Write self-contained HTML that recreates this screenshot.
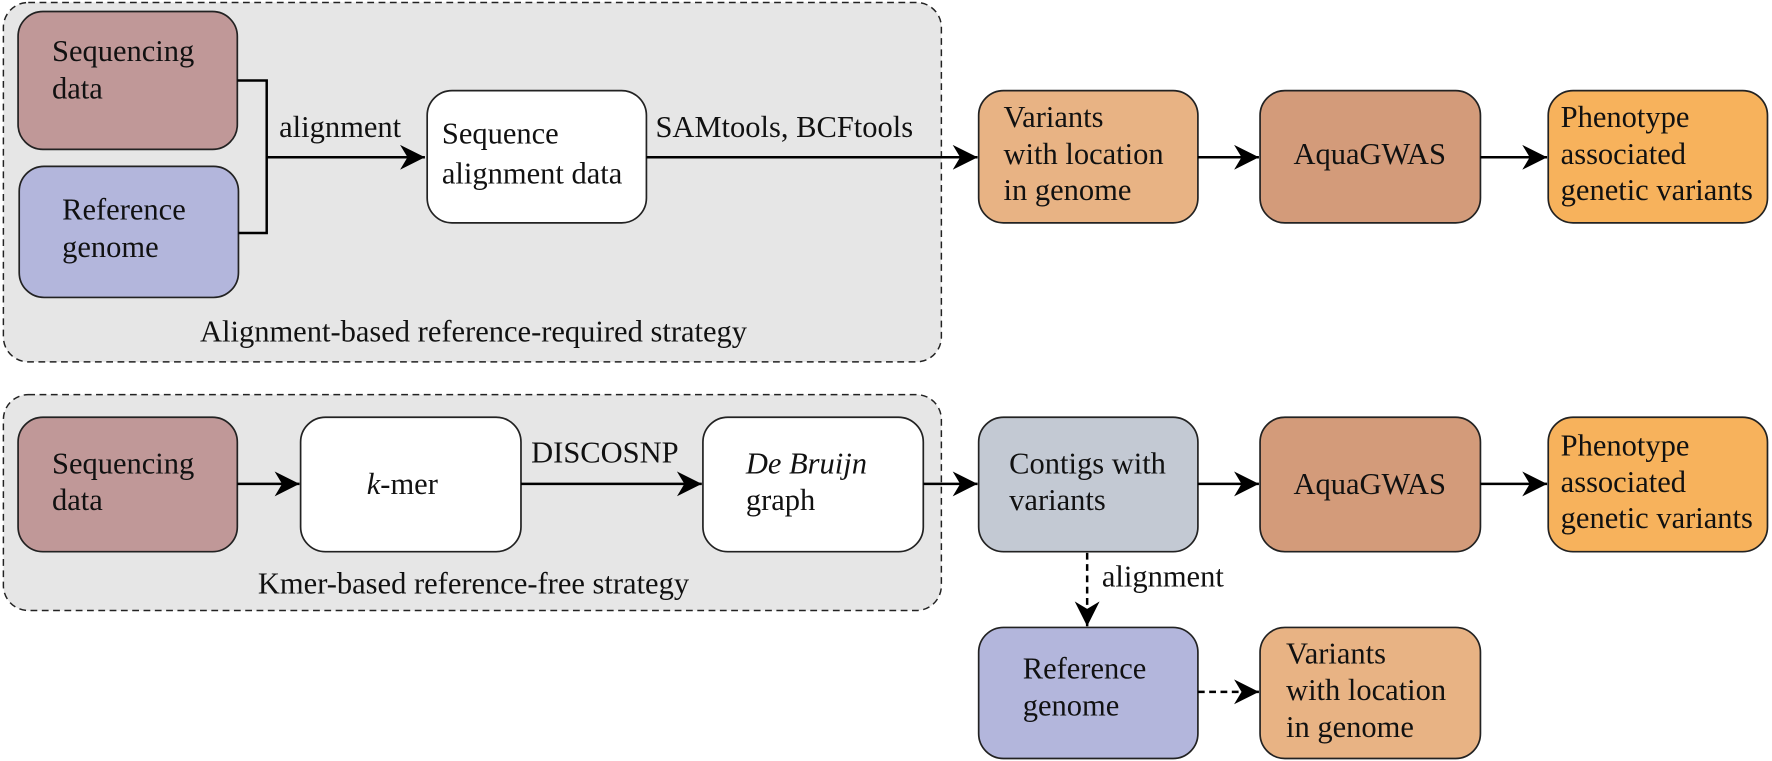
<!DOCTYPE html>
<html><head><meta charset="utf-8"><style>html,body{margin:0;padding:0;background:#fff}svg{display:block}svg text{font-family:"Liberation Serif","Times New Roman",serif;font-size:27px;fill:#111}</style></head>
<body>
<svg width="1772" height="761" viewBox="0 0 1568 673" xmlns="http://www.w3.org/2000/svg">
<defs>
<marker id="ah" viewBox="0 0 10 10" refX="10" refY="5" markerWidth="22" markerHeight="22" markerUnits="userSpaceOnUse" orient="auto"><path d="M0,0 L10,5 L0,10 L3,5 Z" fill="#000"/></marker>
</defs>
<g stroke="#222" stroke-width="1.3" stroke-dasharray="6,4" fill="#e6e6e6">
<rect x="3" y="2" width="830" height="318" rx="22"/>
<rect x="3" y="349" width="830" height="191" rx="22"/>
</g>
<g stroke="#222" stroke-width="1.5">
<rect x="16" y="10" width="194" height="122" rx="22" fill="#c09898"/>
<rect x="17" y="147" width="194" height="116" rx="22" fill="#b3b6dc"/>
<rect x="378" y="80" width="194" height="117" rx="22" fill="#fff"/>
<rect x="866" y="80" width="194" height="117" rx="22" fill="#e8b384"/>
<rect x="1115" y="80" width="195" height="117" rx="22" fill="#d39b7a"/>
<rect x="1370" y="80" width="194" height="117" rx="22" fill="#f7b25c"/>
<rect x="16" y="369" width="194" height="119" rx="22" fill="#c09898"/>
<rect x="266" y="369" width="195" height="119" rx="22" fill="#fff"/>
<rect x="622" y="369" width="195" height="119" rx="22" fill="#fff"/>
<rect x="866" y="369" width="194" height="119" rx="22" fill="#c3c9d3"/>
<rect x="1115" y="369" width="195" height="119" rx="22" fill="#d39b7a"/>
<rect x="1370" y="369" width="194" height="119" rx="22" fill="#f7b25c"/>
<rect x="866" y="555" width="194" height="116" rx="22" fill="#b3b6dc"/>
<rect x="1115" y="555" width="195" height="116" rx="22" fill="#e8b384"/>
</g>
<g stroke="#000" stroke-width="2.2" fill="none">
<path d="M210,71 H236 V206 H211"/>
<line x1="236" y1="139" x2="376" y2="139" marker-end="url(#ah)"/>
<line x1="572" y1="139" x2="865" y2="139" marker-end="url(#ah)"/>
<line x1="1060" y1="139" x2="1114" y2="139" marker-end="url(#ah)"/>
<line x1="1310" y1="139" x2="1369" y2="139" marker-end="url(#ah)"/>
<line x1="210" y1="428" x2="265" y2="428" marker-end="url(#ah)"/>
<line x1="461" y1="428" x2="621" y2="428" marker-end="url(#ah)"/>
<line x1="817" y1="428" x2="865" y2="428" marker-end="url(#ah)"/>
<line x1="1060" y1="428" x2="1114" y2="428" marker-end="url(#ah)"/>
<line x1="1310" y1="428" x2="1369" y2="428" marker-end="url(#ah)"/>
<line x1="962" y1="489" x2="962" y2="554" stroke-dasharray="6,4" marker-end="url(#ah)"/>
<line x1="1060" y1="612" x2="1114" y2="612" stroke-dasharray="6,4" marker-end="url(#ah)"/>
</g>
<text x="46" y="54">Sequencing</text><text x="46" y="87">data</text>
<text x="55" y="194">Reference</text><text x="55" y="227">genome</text>
<text x="247" y="121">alignment</text>
<text x="391" y="127">Sequence</text><text x="391" y="162">alignment data</text>
<text x="580" y="121">SAMtools, BCFtools</text>
<text x="888" y="112">Variants</text><text x="888" y="145">with location</text><text x="888" y="177">in genome</text>
<text x="1212" y="145" text-anchor="middle">AquaGWAS</text>
<text x="1381" y="112">Phenotype</text><text x="1381" y="145">associated</text><text x="1381" y="177">genetic variants</text>
<text x="419" y="302" text-anchor="middle">Alignment-based reference-required strategy</text>
<text x="46" y="419">Sequencing</text><text x="46" y="451">data</text>
<text x="356" y="437" text-anchor="middle"><tspan font-style="italic">k</tspan>-mer</text>
<text x="470" y="409">DISCOSNP</text>
<text x="660" y="419" font-style="italic">De Bruijn</text><text x="660" y="451">graph</text>
<text x="893" y="419">Contigs with</text><text x="893" y="451">variants</text>
<text x="1212" y="437" text-anchor="middle">AquaGWAS</text>
<text x="1381" y="403">Phenotype</text><text x="1381" y="435">associated</text><text x="1381" y="467">genetic variants</text>
<text x="419" y="525" text-anchor="middle">Kmer-based reference-free strategy</text>
<text x="975" y="519">alignment</text>
<text x="905" y="600">Reference</text><text x="905" y="633">genome</text>
<text x="1138" y="587">Variants</text><text x="1138" y="619">with location</text><text x="1138" y="652">in genome</text>
</svg>
</body></html>
